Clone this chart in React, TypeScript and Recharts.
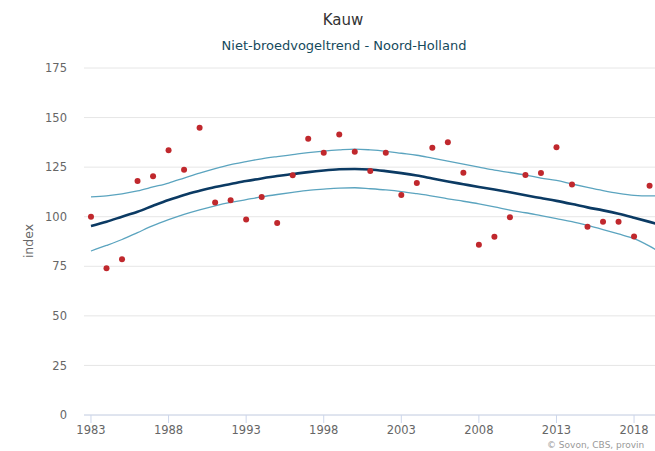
import React from "react";
import { ComposedChart, Line, Scatter, XAxis, YAxis, CartesianGrid } from "recharts";

// trend years (last one runs past the right edge and gets clipped)
const trendYears = [
  1983, 1984, 1985, 1986, 1987, 1988, 1989, 1990, 1991, 1992, 1993, 1994, 1995, 1996, 1997, 1998, 1999,
  2000, 2001, 2002, 2003, 2004, 2005, 2006, 2007, 2008, 2009, 2010, 2011, 2012, 2013, 2014, 2015, 2016,
  2017, 2018, 2019, 2020,
];
const trend = [
  95.3, 97.5, 100, 102.5, 105.5, 108.4, 111, 113.1, 115, 116.5, 118, 119.3, 120.5, 121.5, 122.5, 123.3, 123.9,
  124.1, 123.8, 123, 122, 120.8, 119.3, 117.8, 116.4, 115, 113.7, 112.3, 110.8, 109.4, 108, 106.4, 104.7, 103.2,
  101.5, 99.5, 97.4, 95.2,
];
const upper = [
  110, 110.5, 111.5, 113, 115, 117, 119.5, 122, 124.3, 126.3, 127.8, 129.2, 130.3, 131.3, 132.3, 133.1, 133.7,
  134.1, 133.7, 133, 132, 131, 129.5, 128, 126.5, 125, 123.5, 122.3, 121, 119.5, 118.3, 116.5, 114.8, 113.2,
  111.8, 110.8, 110.5, 110.6,
];
const lower = [
  82.7, 85.5, 88.5, 92, 95.5, 98.5, 101.2, 103.5, 105.5, 107.2, 108.6, 110, 111.2, 112.3, 113.3, 113.9, 114.4,
  114.6, 114.1, 113.5, 112.7, 111.6, 110.4, 109, 107.8, 106.5, 105, 103.3, 102, 100.5, 99, 97.5, 95.6, 93.5,
  91.3, 89, 85.2, 80.5,
];

// yearly index values (dots)
const obsYears = trendYears.slice(0, 37);
const observed = [
  100, 74, 78.5, 118, 120.4, 133.5, 123.7, 144.9, 107.2, 108.3, 98.6, 110, 96.8, 120.9, 139.3, 132.3, 141.4,
  132.8, 123, 132.3, 111, 117, 134.8, 137.5, 122.2, 85.9, 89.9, 99.7, 121, 122, 135, 116.3, 95, 97.5, 97.5, 90,
  115.6,
];

const xTicks = [1983, 1988, 1993, 1998, 2003, 2008, 2013, 2018];
const yTicks = [0, 25, 50, 75, 100, 125, 150, 175];

const lineData = trendYears.map((year, i) => ({ year, trend: trend[i], upper: upper[i], lower: lower[i] }));
const dotData = obsYears.map((year, i) => ({ year, obs: observed[i] }));

const font = "'DejaVu Sans', sans-serif";

const Dot = (props: any) => {
  const { cx, cy } = props;
  if (cx == null || cy == null) return null;
  return <circle cx={cx} cy={cy} r={3} fill="#c0282d" />;
};

export default function App() {
  return (
    <div
      style={{
        position: "absolute",
        left: 0,
        top: 0,
        width: 655,
        height: 451,
        overflow: "hidden",
        background: "#fff",
        fontFamily: font,
      }}
    >
      <div style={{ position: "absolute", left: 0, width: 686, top: 11, textAlign: "center", fontSize: 15, color: "#333" }}>
        Kauw
      </div>
      <div
        style={{ position: "absolute", left: 0, width: 688, top: 38, textAlign: "center", fontSize: 13, color: "#154a5c" }}
      >
        Niet-broedvogeltrend - Noord-Holland
      </div>
      <div
        style={{
          position: "absolute",
          left: 28,
          top: 241,
          transform: "translate(-50%, -50%) rotate(-90deg)",
          fontSize: 12.5,
          color: "#666",
        }}
      >
        index
      </div>
      <ComposedChart
        width={655}
        height={451}
        data={lineData}
        margin={{ top: 68, right: 0, left: 34, bottom: 6 }}
        style={{ position: "absolute", left: 0, top: 0 }}
      >
        <CartesianGrid vertical={false} stroke="#e6e6e6" />
        <XAxis
          type="number"
          dataKey="year"
          domain={[1982.55, 2019.35]}
          allowDataOverflow
          ticks={xTicks}
          height={30}
          tickSize={8}
          tickMargin={3}
          axisLine={{ stroke: "#ccd6eb" }}
          tickLine={{ stroke: "#ccd6eb" }}
          tick={{ fill: "#666", fontSize: 11.5, fontFamily: font }}
        />
        <YAxis
          type="number"
          domain={[0, 175]}
          ticks={yTicks}
          width={50}
          axisLine={false}
          tickLine={false}
          tickSize={0}
          tickMargin={17}
          tick={{ fill: "#666", fontSize: 11.5, fontFamily: font }}
        />
        <Line dataKey="upper" type="monotone" stroke="#5ba4bf" strokeWidth={1.3} dot={false} isAnimationActive={false} />
        <Line dataKey="lower" type="monotone" stroke="#5ba4bf" strokeWidth={1.3} dot={false} isAnimationActive={false} />
        <Line dataKey="trend" type="monotone" stroke="#0b3a63" strokeWidth={2.6} dot={false} isAnimationActive={false} />
        <Scatter data={dotData} dataKey="obs" shape={<Dot />} isAnimationActive={false} />
      </ComposedChart>
      <div
        style={{
          position: "absolute",
          left: 547,
          top: 440,
          fontSize: 9,
          lineHeight: "10px",
          color: "#999",
          whiteSpace: "nowrap",
        }}
      >
        © Sovon, CBS, provin
      </div>
    </div>
  );
}
